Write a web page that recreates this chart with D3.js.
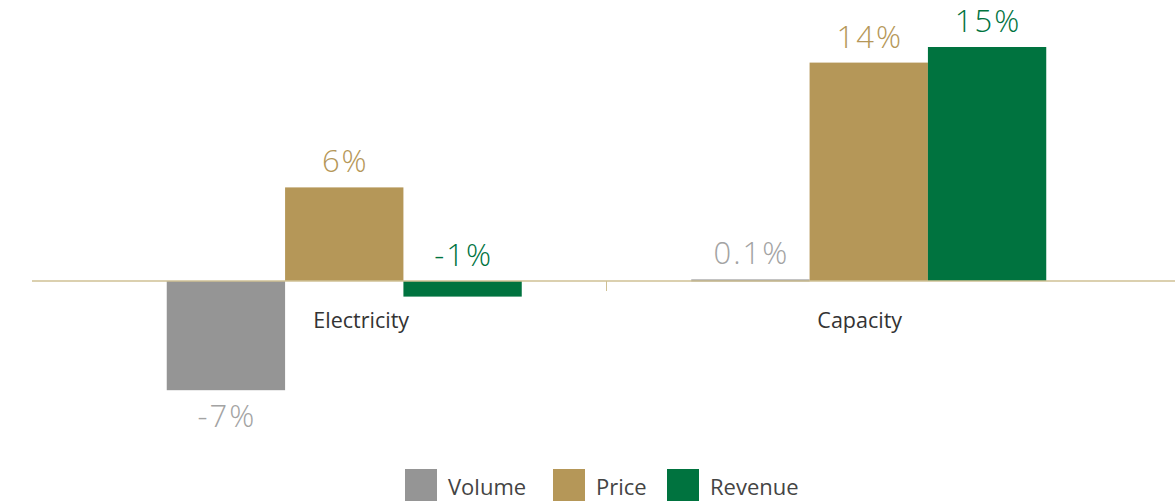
<!DOCTYPE html>
<html>
<head>
<meta charset="utf-8">
<script src="https://cdn.jsdelivr.net/npm/d3@7"></script>
<style>
  body { margin: 0; background: #fff; }
  svg { display: block; font-family: "Open Sans", "Noto Sans", sans-serif; }
</style>
</head>
<body>
<svg id="chart" width="1175" height="501"></svg>
<script>
// data
const categories = ["Electricity", "Capacity"];
const seriesNames = ["Volume", "Price", "Revenue"];
const volume = [-7, 0.1];
const price = [6, 14];
const revenue = [-1, 15];
const valueLabels = [["-7%", "6%", "-1%"], ["0.1%", "14%", "15%"]];

const colors = ["#959595", "#b59758", "#00733f"];
const labelColors = ["#a3a3a3", "#b59758", "#00733f"];

const svg = d3.select("#chart");
const zeroY = 281;

const x0 = d3.scaleBand().domain(categories).range([82, 1131]);
const groupW = 355;
const x1 = d3
  .scaleBand()
  .domain(seriesNames)
  .range([(x0.bandwidth() - groupW) / 2, (x0.bandwidth() + groupW) / 2]);
const y = d3.scaleLinear().domain([-7, 15]).range([zeroY + 7 * 15.6, zeroY - 15 * 15.6]);

const rows = categories.map((c, i) => ({
  cat: c,
  vals: [volume[i], price[i], revenue[i]].map((v, j) => ({
    key: seriesNames[j],
    v,
    idx: j,
    label: valueLabels[i][j]
  }))
}));

// bars
const g = svg
  .selectAll("g.cat")
  .data(rows)
  .join("g")
  .attr("class", "cat")
  .attr("transform", (d) => `translate(${x0(d.cat)},0)`);

g.selectAll("rect")
  .data((d) => d.vals)
  .join("rect")
  .attr("x", (d) => x1(d.key))
  .attr("width", x1.bandwidth())
  .attr("y", (d) => Math.min(y(d.v), y(0)))
  .attr("height", (d) => Math.max(Math.abs(y(d.v) - y(0)), 2))
  .attr("fill", (d) => colors[d.idx]);

// value labels
g.selectAll("text.val")
  .data((d) => d.vals)
  .join("text")
  .attr("class", "val")
  .attr("x", (d) => x1(d.key) + x1.bandwidth() / 2 + 1)
  .attr("y", (d) => (d.v < -2 ? y(d.v) + 37 : y(Math.max(d.v, 0)) - 15))
  .attr("text-anchor", "middle")
  .attr("font-size", 31)
  .attr("font-weight", 300)
  .attr("letter-spacing", 2)
  .attr("fill", (d) => labelColors[d.idx])
  .text((d) => d.label);

// axis line + tick
svg
  .append("line")
  .attr("x1", 32)
  .attr("x2", 1175)
  .attr("y1", y(0))
  .attr("y2", y(0))
  .attr("stroke", "#cfc094")
  .attr("stroke-width", 1.5);

svg
  .append("line")
  .attr("x1", x0("Capacity"))
  .attr("x2", x0("Capacity"))
  .attr("y1", y(0))
  .attr("y2", y(0) + 10)
  .attr("stroke", "#cfc094")
  .attr("stroke-width", 1);

// category labels
svg
  .selectAll("text.cat")
  .data(categories)
  .join("text")
  .attr("class", "cat")
  .attr("x", (d, i) => x0(d) + x0.bandwidth() / 2 + (i === 0 ? 17 : -9))
  .attr("y", 328)
  .attr("text-anchor", "middle")
  .attr("font-size", 21.5)
  .attr("fill", "#333")
  .text((d) => d);

// legend
const legendX = [405, 553, 667];
const legend = svg
  .selectAll("g.leg")
  .data(seriesNames)
  .join("g")
  .attr("class", "leg")
  .attr("transform", (d, i) => `translate(${legendX[i]},469)`);

legend
  .append("rect")
  .attr("width", 32)
  .attr("height", 32)
  .attr("fill", (d, i) => colors[i]);

legend
  .append("text")
  .attr("x", 43)
  .attr("y", 26)
  .attr("font-size", 22)
  .attr("fill", "#444")
  .text((d) => d);
</script>
</body>
</html>
